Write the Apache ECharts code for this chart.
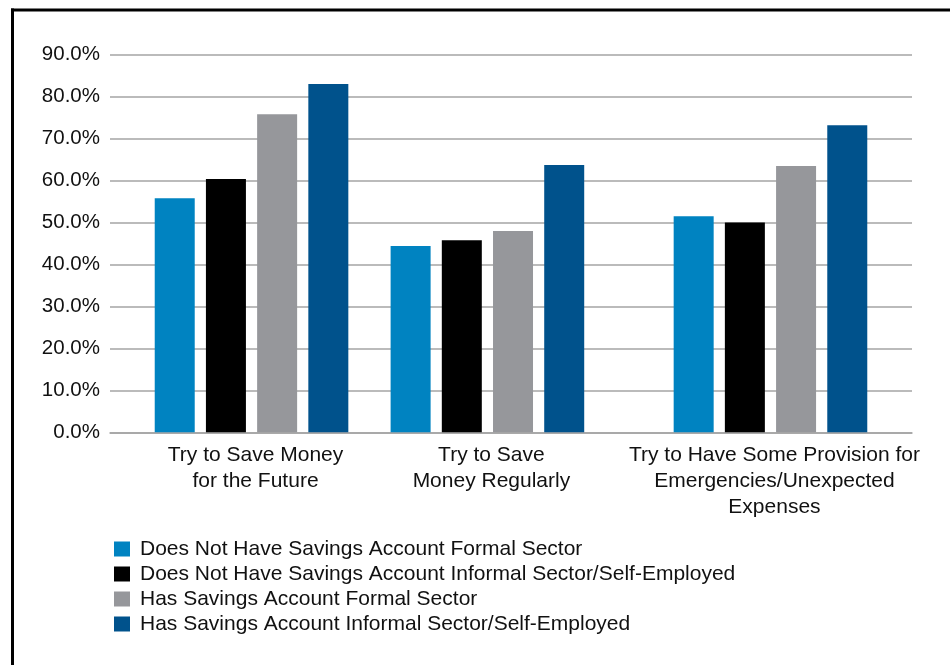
<!DOCTYPE html>
<html>
<head>
<meta charset="utf-8">
<script src="https://cdn.jsdelivr.net/npm/echarts@6/dist/echarts.min.js"></script>
<style>
  html, body { margin: 0; padding: 0; background: #fff; }
  #chart { width: 950px; height: 665px; }
</style>
</head>
<body>
<div id="chart"></div>
<script>
// Savings behaviour by account ownership and employment sector (percent of respondents)
const categories = [
  'Try to Save Money\nfor the Future',
  'Try to Save\nMoney Regularly',
  'Try to Have Some Provision for\nEmergencies/Unexpected\nExpenses'
];
const seriesNames = [
  'Does Not Have Savings Account Formal Sector',
  'Does Not Have Savings Account Informal Sector/Self-Employed',
  'Has Savings Account Formal Sector',
  'Has Savings Account Informal Sector/Self-Employed'
];
const noAccountFormal   = [55.8, 44.4, 51.5];
const noAccountInformal = [60.4, 45.8, 50.0];
const accountFormal     = [75.8, 48.0, 63.5];
const accountInformal   = [83.0, 63.7, 73.2];
const yTicks = [0, 10, 20, 30, 40, 50, 60, 70, 80, 90];

const seriesValues = [noAccountFormal, noAccountInformal, accountFormal, accountInformal];
const seriesColors = ['#0083C1', '#000000', '#96979B', '#00528C'];

// The groups sit on a finer category grid so their spacing follows the layout
const slotCount = 18;
const groupSlots = [3, 8, 14];
const axisCategories = Array.from({ length: slotCount }, () => '');
groupSlots.forEach((s, i) => { axisCategories[s] = categories[i]; });

function toSlots(values) {
  const out = Array.from({ length: slotCount }, () => null);
  groupSlots.forEach((s, i) => { out[s] = values[i]; });
  return out;
}

const font = "'Liberation Sans', Arial, Helvetica, sans-serif";
const textColor = '#111111';

const chart = echarts.init(document.getElementById('chart'), null, { renderer: 'canvas' });

chart.setOption({
  animation: false,
  backgroundColor: '#ffffff',
  grid: {
    left: 110,
    right: 38,
    top: 54.7,
    bottom: 232.7,
    containLabel: false
  },
  legend: {
    orient: 'vertical',
    left: 114,
    top: 538.5,
    padding: 0,
    icon: 'rect',
    itemWidth: 16,
    itemHeight: 15,
    itemGap: 4,
    data: seriesNames,
    textStyle: {
      fontFamily: font,
      fontSize: 21,
      color: textColor,
      lineHeight: 21,
      padding: [0, 0, 0, 5]
    },
    selectedMode: false
  },
  xAxis: {
    type: 'category',
    data: axisCategories,
    boundaryGap: false,
    axisLine: { show: true, lineStyle: { color: '#a4a4a4', width: 1.5 } },
    axisTick: { show: false },
    splitLine: { show: false },
    axisLabel: {
      interval: 0,
      margin: 10,
      fontFamily: font,
      fontSize: 21,
      lineHeight: 26,
      color: textColor,
      align: 'center',
      padding: [0, 0, 0, 8]
    }
  },
  yAxis: {
    type: 'value',
    min: yTicks[0],
    max: yTicks[yTicks.length - 1],
    interval: yTicks[1] - yTicks[0],
    axisLine: { show: false },
    axisTick: { show: false },
    splitLine: { show: true, lineStyle: { color: '#a4a4a4', width: 1.5 } },
    axisLabel: {
      margin: 10,
      fontFamily: font,
      fontSize: 20.5,
      color: textColor,
      formatter: v => v.toFixed(1) + '%'
    }
  },
  series: seriesNames.map((name, i) => ({
    name: name,
    type: 'bar',
    data: toSlots(seriesValues[i]),
    barWidth: 40,
    barGap: '28%',
    itemStyle: { color: seriesColors[i] },
    clip: false
  })),
  graphic: [
    {
      type: 'line',
      shape: { x1: 11, y1: 10, x2: 950, y2: 10 },
      style: { stroke: '#000', lineWidth: 3 },
      silent: true
    },
    {
      type: 'line',
      shape: { x1: 12.5, y1: 8.5, x2: 12.5, y2: 665 },
      style: { stroke: '#000', lineWidth: 3 },
      silent: true
    }
  ]
});
</script>
</body>
</html>
